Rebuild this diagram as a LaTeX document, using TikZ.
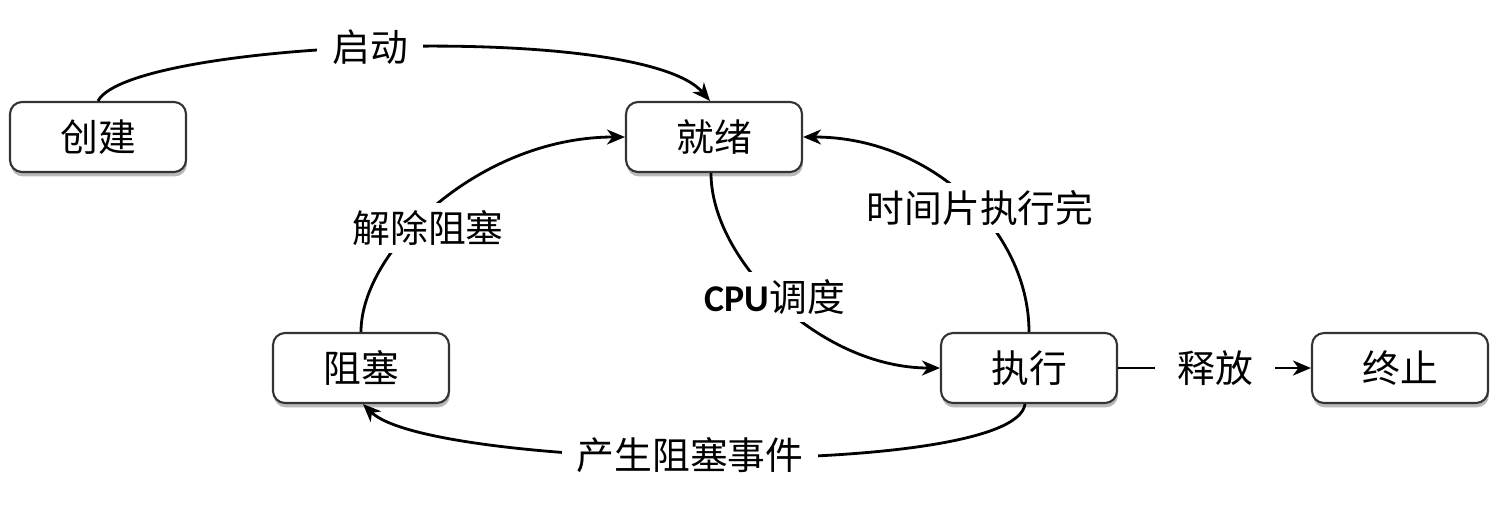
\documentclass[tikz,border=0pt]{standalone}
\usepackage{fontspec}
\setmainfont{Noto Sans CJK SC}
\newfontfamily\cpufont{Carlito}
\usetikzlibrary{arrows.meta,shadows}
\begin{document}
\begin{tikzpicture}[x=0.02cm,y=-0.02cm,
  font=\fontsize{21.5pt}{24pt}\selectfont,
  state/.style={draw=black!80,line width=1.2pt,rounded corners=0.24cm,fill=white,
    minimum width=3.52cm,minimum height=1.4cm,inner sep=0pt,
    drop shadow={shadow xshift=0.5pt,shadow yshift=-2.5pt,fill=black!55,opacity=0.5}},
  lbl/.style={fill=white,inner xsep=0.3cm,inner ysep=0.15cm},
  conn/.style={line width=1.6pt,-{Stealth[length=0.36cm,width=0.3cm,inset=0.11cm]}},
  plain/.style={line width=1.6pt}]
\useasboundingbox (0,0) rectangle (1490,511);
\node[state] (create) at (98,137) {创建};
\node[state] (ready) at (714,137) {就绪};
\node[state] (block) at (361,368) {阻塞};
\node[state] (run) at (1029,368) {执行};
\node[state] (term) at (1400,368) {终止};
% create -> ready
\draw[conn] (create.north) .. controls (130,40) and (640,20) .. ([xshift=-0.08cm]ready.north);
% ready -> run
\draw[conn] ([xshift=-0.06cm]ready.south) .. controls (711,260) and (820,368) .. (run.west);
% run -> ready
\draw[conn] (run.north) .. controls (1029,230) and (930,137) .. (ready.east);
% block -> ready
\draw[conn] (block.north) .. controls (361,250) and (480,137) .. (ready.west);
% run -> block
\draw[conn] ([xshift=-0.08cm]run.south) .. controls (1015,480) and (430,470) .. ([xshift=0.04cm]block.south);
% run -> term
\draw[conn] (run.east) -- (term.west);
% labels
\node[lbl] (l1) at (370,47) {启动};
\node[lbl,inner xsep=0.15cm] (l2) at (428,228) {解除阻塞};
\node[lbl,inner xsep=0.1cm] (l3) at (775,297) {{\cpufont\bfseries CPU}调度};
\node[lbl,inner xsep=0.15cm] (l4) at (980,208) {时间片执行完};
\node[lbl] (l5) at (690,455) {产生阻塞事件};
\node[lbl,inner xsep=0.45cm] (l6) at (1215,368) {释放};
\end{tikzpicture}
\end{document}
